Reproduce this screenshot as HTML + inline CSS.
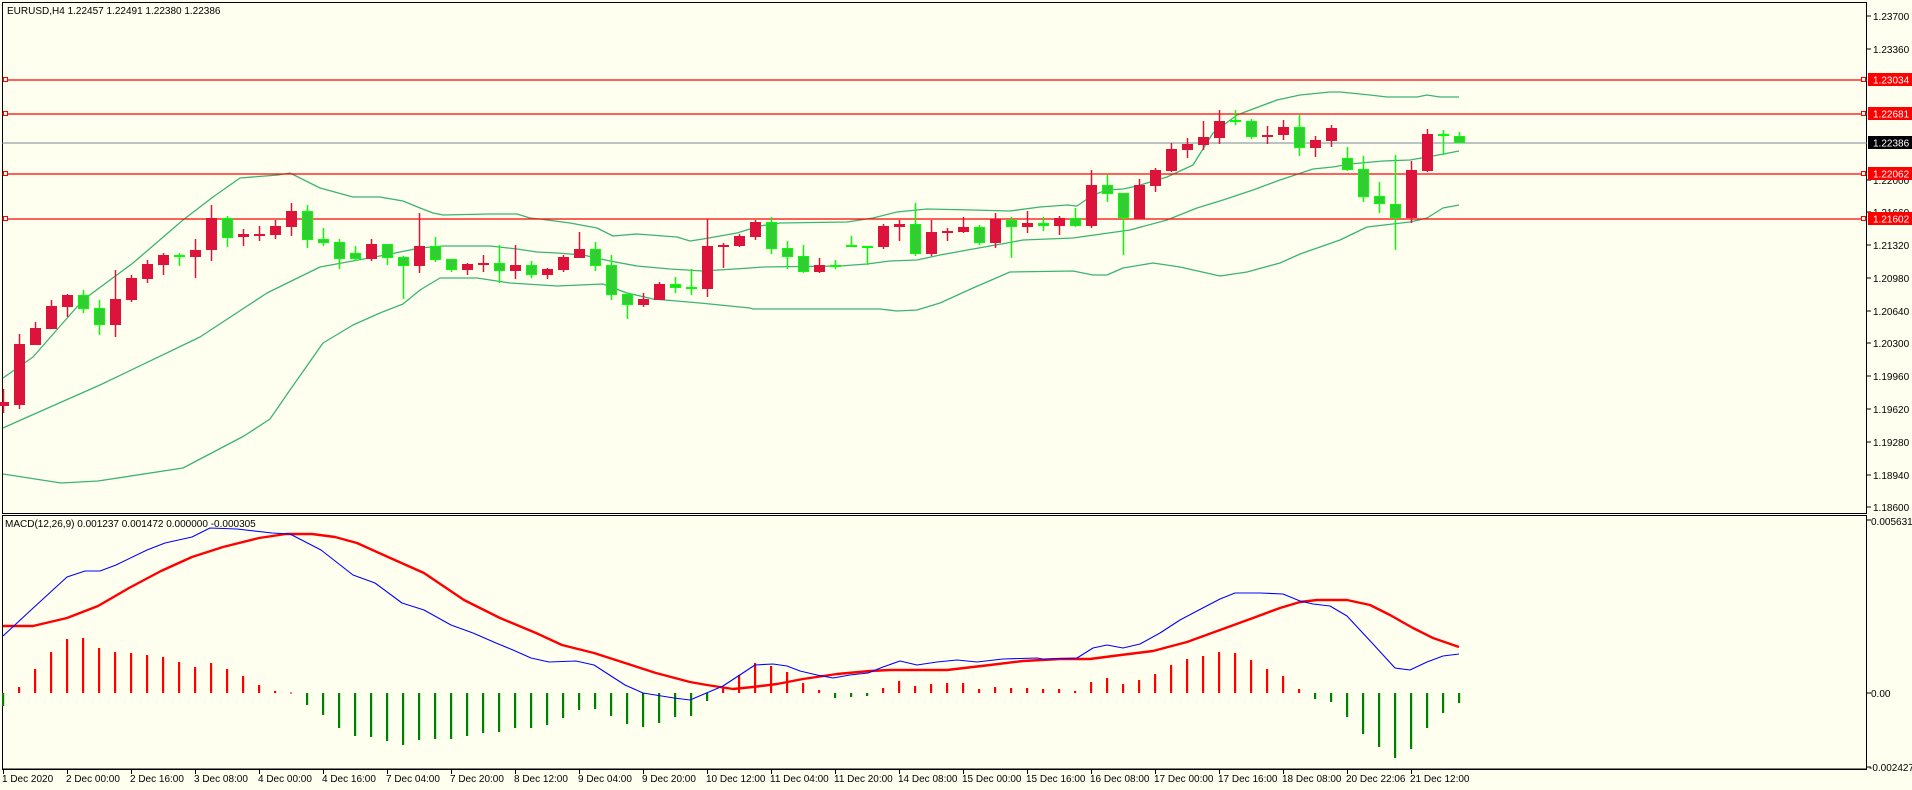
<!DOCTYPE html>
<html><head><meta charset="utf-8">
<style>
html,body{margin:0;padding:0;background:#fffff0;}
svg{display:block;}
text{font-family:"Liberation Sans",sans-serif;font-size:10px;fill:#000;}
</style></head>
<body>
<svg id="c" width="1912" height="790" xmlns="http://www.w3.org/2000/svg">
<rect x="0" y="0" width="1912" height="790" fill="#fffff0"/>
<rect x="2.5" y="2.5" width="1864" height="511" fill="none" stroke="#000" stroke-width="1"/>
<rect x="2.5" y="515.5" width="1864" height="253.5" fill="none" stroke="#000" stroke-width="1"/>
<line x1="2" y1="769.5" x2="1867" y2="769.5" stroke="#000"/>
<g id="bands" fill="none" stroke="#3cb371" stroke-width="1.3"></g>
<g stroke="#ff0000" stroke-width="1.3">
<line x1="2" y1="80" x2="1867" y2="80"/>
<line x1="2" y1="114" x2="1867" y2="114"/>
<line x1="2" y1="174" x2="1867" y2="174"/>
<line x1="2" y1="219" x2="1867" y2="219"/>
</g>
<g fill="#fffff0" stroke="#ff0000" stroke-width="1">
<rect x="3.5" y="77.5" width="4" height="4"/><rect x="3.5" y="111.5" width="4" height="4"/>
<rect x="3.5" y="171.5" width="4" height="4"/><rect x="3.5" y="216.5" width="4" height="4"/>
<rect x="1861.5" y="77.5" width="4" height="4"/><rect x="1861.5" y="111.5" width="4" height="4"/>
<rect x="1861.5" y="171.5" width="4" height="4"/><rect x="1861.5" y="216.5" width="4" height="4"/>
</g>
<line x1="2" y1="143" x2="1867" y2="143" stroke="#778899" stroke-width="1"/>
<g id="candles"></g>
<g id="macd"></g>
<text x="7" y="14">EURUSD,H4  1.22457 1.22491 1.22380 1.22386</text>
<text x="5" y="527">MACD(12,26,9) 0.001237 0.001472 0.000000 -0.000305</text>
<g stroke="#000">
<line x1="1867" y1="16" x2="1871" y2="16"/><line x1="1867" y1="49" x2="1871" y2="49"/>
<line x1="1867" y1="245" x2="1871" y2="245"/><line x1="1867" y1="278" x2="1871" y2="278"/>
<line x1="1867" y1="311" x2="1871" y2="311"/><line x1="1867" y1="343" x2="1871" y2="343"/>
<line x1="1867" y1="376" x2="1871" y2="376"/><line x1="1867" y1="409" x2="1871" y2="409"/>
<line x1="1867" y1="442" x2="1871" y2="442"/><line x1="1867" y1="475" x2="1871" y2="475"/>
<line x1="1867" y1="507" x2="1871" y2="507"/><line x1="1867" y1="212" x2="1871" y2="212"/>
<line x1="1867" y1="180" x2="1871" y2="180"/>
<line x1="1867" y1="520" x2="1871" y2="520"/><line x1="1867" y1="693" x2="1871" y2="693"/><line x1="1867" y1="767" x2="1871" y2="767"/>
</g>
<g>
<text x="1873" y="20">1.23700</text><text x="1873" y="53">1.23360</text>
<text x="1873" y="184">1.22000</text><text x="1873" y="216">1.21660</text>
<text x="1873" y="249">1.21320</text><text x="1873" y="282">1.20980</text>
<text x="1873" y="315">1.20640</text><text x="1873" y="347">1.20300</text>
<text x="1873" y="380">1.19960</text><text x="1873" y="413">1.19620</text>
<text x="1873" y="446">1.19280</text><text x="1873" y="479">1.18940</text>
<text x="1873" y="511">1.18600</text>
<text x="1871" y="525">0.005631</text><text x="1871" y="697">0.00</text><text x="1869" y="771">-0.002427</text>
</g>
<rect x="1868" y="73" width="44" height="13" fill="#ff0000"/>
<text x="1873" y="83.5" style="fill:#fff">1.23034</text>
<rect x="1868" y="107" width="44" height="13" fill="#ff0000"/>
<text x="1873" y="117.5" style="fill:#fff">1.22681</text>
<rect x="1868" y="136" width="44" height="13" fill="#000"/>
<text x="1873" y="146.5" style="fill:#fff">1.22386</text>
<rect x="1868" y="167" width="44" height="13" fill="#ff0000"/>
<text x="1873" y="177.5" style="fill:#fff">1.22062</text>
<rect x="1868" y="212" width="44" height="13" fill="#ff0000"/>
<text x="1873" y="222.5" style="fill:#fff">1.21602</text>
<g id="tticks" stroke="#000"></g>
<g>
<text x="2" y="782">1 Dec 2020</text>
<text x="66" y="782">2 Dec 00:00</text>
<text x="130" y="782">2 Dec 16:00</text>
<text x="194" y="782">3 Dec 08:00</text>
<text x="258" y="782">4 Dec 00:00</text>
<text x="322" y="782">4 Dec 16:00</text>
<text x="386" y="782">7 Dec 04:00</text>
<text x="450" y="782">7 Dec 20:00</text>
<text x="514" y="782">8 Dec 12:00</text>
<text x="578" y="782">9 Dec 04:00</text>
<text x="642" y="782">9 Dec 20:00</text>
<text x="706" y="782">10 Dec 12:00</text>
<text x="770" y="782">11 Dec 04:00</text>
<text x="834" y="782">11 Dec 20:00</text>
<text x="898" y="782">14 Dec 08:00</text>
<text x="962" y="782">15 Dec 00:00</text>
<text x="1026" y="782">15 Dec 16:00</text>
<text x="1090" y="782">16 Dec 08:00</text>
<text x="1154" y="782">17 Dec 00:00</text>
<text x="1218" y="782">17 Dec 16:00</text>
<text x="1282" y="782">18 Dec 08:00</text>
<text x="1346" y="782">20 Dec 22:06</text>
<text x="1410" y="782">21 Dec 12:00</text>
</g>
</svg>
<script>
var NS="http://www.w3.org/2000/svg";
function el(p,t,a){var e=document.createElementNS(NS,t);for(var k in a)e.setAttribute(k,a[k]);p.appendChild(e);return e;}
var C=[[402,406,389,413,'r'],[344,405,334,409,'r'],[328,345,322,345,'r'],[306,329,300,329,'r'],[295,307,294,317,'r'],[295,309,290,313,'g'],[308,325,300,335,'g'],[299,325,270,337,'r'],[278,300,275,302,'r'],[264,279,260,283,'r'],[255,265,253,275,'r'],[255,257,253,266,'g'],[250,257,239,278,'r'],[218,250,205,261,'r'],[218,238,216,247,'g'],[234,237,229,246,'r'],[234,235,226,241,'r'],[226,235,220,239,'r'],[211,227,203,236,'r'],[211,240,205,248,'g'],[239,243,228,246,'g'],[242,259,239,269,'g'],[253,259,246,261,'g'],[244,259,239,261,'r'],
[244,258,244,265,'g'],[257,266,256,299,'g'],[246,266,213,273,'r'],[246,260,237,262,'g'],[259,270,259,272,'g'],[264,270,263,275,'r'],[263,265,255,272,'r'],[263,271,245,283,'g'],[265,271,245,279,'r'],[265,275,261,278,'g'],[269,275,268,279,'r'],[257,270,255,272,'r'],[249,258,232,258,'r'],[249,266,242,271,'g'],[265,295,255,300,'g'],[294,305,293,319,'g'],[299,305,293,307,'r'],[284,300,282,300,'r'],[284,288,277,293,'g'],[287,289,269,295,'g'],[246,289,219,297,'r'],[245,247,243,268,'r'],[236,246,234,247,'r'],
[222,237,220,240,'r'],[222,249,217,254,'g'],[248,257,241,269,'g'],[256,272,245,273,'g'],[265,272,258,273,'r'],[265,267,260,269,'g'],[245,247,236,247,'g'],[246,247,246,265,'g'],[226,247,224,249,'r'],[224,227,220,241,'r'],[224,254,203,256,'g'],[232,254,220,256,'r'],[231,233,228,241,'r'],[227,232,217,233,'r'],[227,243,225,245,'g'],[219,243,213,248,'r'],[220,227,217,258,'g'],[223,227,211,233,'r'],[223,226,217,231,'g'],[218,226,216,235,'r'],[218,226,208,227,'g'],[185,226,170,228,'r'],[185,194,175,202,'g'],
[193,218,193,255,'g'],[185,219,179,219,'r'],[170,186,168,192,'r'],[149,171,143,172,'r'],[144,150,138,158,'r'],[137,145,121,150,'r'],[121,138,110,144,'r'],[120,122,110,125,'g'],[121,137,119,139,'g'],[135,137,126,144,'r'],[127,135,120,140,'r'],[127,148,115,156,'g'],[140,148,136,157,'r'],[128,141,125,147,'r'],[158,170,147,171,'g'],[169,197,156,202,'g'],[196,204,182,213,'g'],[204,218,155,250,'g'],[170,218,161,223,'r'],[134,171,129,172,'r'],[134,136,130,155,'g'],[136,143,132,143,'g']];
var g=document.getElementById('candles');
C.forEach(function(c,i){var x=3+16*i;var col=c[4]=='r'?'#dc143c':'#00ff00';
el(g,'line',{x1:x+0.5,x2:x+0.5,y1:c[2],y2:c[3],stroke:col,'stroke-width':1.5});
var h=Math.max(c[1]-c[0],2);
if(c[4]=='r')el(g,'rect',{x:x-5,y:c[0],width:11,height:h,fill:'#dc143c'});
else el(g,'rect',{x:x-4.5,y:c[0]+0.5,width:10,height:Math.max(h-1,1),fill:'#32cd32',stroke:'#00ff00','stroke-width':1});});
function pl(p,pts,col,w){el(p,'polyline',{points:pts.map(function(a){return a.join(',')}).join(' '),fill:'none',stroke:col,'stroke-width':w,'stroke-linejoin':'round'});}
var b=document.getElementById('bands');
pl(b,[[3,378],[33,357],[83,300],[133,263],[183,220],[213,197],[240,178],[278,175],[290,173],[320,188],[353,197],[380,197],[403,201],[420,208],[433,213],[443,215],[490,214],[517,214],[530,218],[540,219],[570,223],[597,228],[613,236],[637,234],[677,237],[690,241],[703,239],[737,233],[750,229],[760,226],[780,223],[847,222],[873,218],[897,212],[927,209],[973,210],[1010,211],[1040,207],[1067,205],[1077,206],[1093,195],[1107,190],[1123,189],[1137,186],[1167,177],[1193,165],[1213,133],[1237,115],[1277,100],[1300,95],[1330,92],[1340,92],[1360,94],[1370,95],[1387,97],[1417,97],[1427,95],[1440,97],[1459,97]],'#3cb371',1.3);
pl(b,[[3,428],[23,419],[100,385],[200,337],[267,293],[320,267],[380,256],[400,252],[420,248],[443,246],[490,246],[517,249],[537,252],[557,253],[583,255],[610,261],[637,266],[670,269],[703,271],[750,268],[763,267],[840,266],[867,264],[890,261],[917,260],[940,255],[973,249],[1007,243],[1023,240],[1073,238],[1080,237],[1130,230],[1167,220],[1197,208],[1223,200],[1253,190],[1280,180],[1313,169],[1333,167],[1350,164],[1383,161],[1410,160],[1433,156],[1459,151]],'#3cb371',1.3);
pl(b,[[3,474],[61,483],[98,481],[183,468],[244,436],[270,419],[290,390],[323,343],[353,325],[380,313],[403,304],[420,290],[440,278],[477,278],[510,283],[557,286],[603,284],[627,293],[653,299],[700,303],[750,308],[753,309],[880,309],[897,311],[917,310],[940,303],[973,288],[1010,272],[1073,271],[1093,275],[1107,275],[1123,268],[1153,263],[1180,267],[1220,276],[1247,272],[1280,263],[1300,254],[1340,240],[1367,227],[1410,222],[1427,218],[1443,208],[1459,205]],'#3cb371',1.3);
var H=[-13,6,24,41,54,55,45,41,40,38,36,31,26,30,24,17,8,2,0.5,-12,-22,-35,-43,-44,-48,-52,-47,-46,-46,-43,-40,-39,-35,-35,-32,-25,-17,-16,-23,-31,-34,-30,-24,-23,-8,5,18,30,27,21,10,3,-5,-4,-3,5,12,7,9,10,10,4,6,5,5,4,4,2,11,15,9,13,19,28,34,37,41,40,33,24,17,4,-6,-9,-24,-41,-54,-65,-56,-35,-20,-10];
var m=document.getElementById('macd');
H.forEach(function(h,i){var x=3+16*i;var y=h>0?693-h:693;el(m,'rect',{x:x-1,y:y,width:2.2,height:Math.max(Math.abs(h),1),fill:h>0?'#ff0000':'#008000'});});
pl(m,[[3,626],[33,626],[67,618],[98,606],[129,588],[161,571],[192,557],[223,547],[259,538],[286,534],[312,534],[335,537],[357,543],[388,557],[424,573],[464,600],[500,618],[536,633],[562,645],[594,653],[625,663],[656,673],[690,682],[707,685],[733,689],[753,687],[777,684],[803,679],[837,674],[870,671],[890,670],[947,670],[990,665],[1023,661],[1060,659],[1090,659],[1113,656],[1153,651],[1187,642],[1220,630],[1253,618],[1280,608],[1300,602],[1317,600],[1347,600],[1370,605],[1390,615],[1413,628],[1433,638],[1459,647]],'#ff0000',2.4);
pl(m,[[3,636],[31,610],[67,577],[85,571],[100,571],[116,565],[147,550],[165,543],[192,537],[210,528],[237,529],[272,533],[290,534],[321,550],[353,575],[375,583],[402,603],[424,610],[451,625],[473,633],[496,643],[513,650],[531,658],[549,662],[576,661],[594,665],[625,685],[643,693],[674,698],[690,700],[723,686],[755,665],[773,664],[787,666],[800,671],[817,675],[833,678],[850,675],[868,673],[883,667],[900,661],[917,665],[937,662],[957,660],[977,662],[1003,659],[1037,658],[1043,659],[1077,658],[1093,648],[1107,645],[1123,648],[1140,644],[1160,633],[1180,620],[1197,611],[1220,599],[1235,593],[1260,593],[1283,594],[1300,601],[1313,604],[1330,606],[1347,616],[1373,644],[1395,668],[1410,670],[1427,662],[1443,656],[1459,654]],'#0000ff',1.1);
var t=document.getElementById('tticks');
for(var k=0;k<23;k++){var x=3+64*k+0.5;el(t,'line',{x1:x,x2:x,y1:769,y2:774});}
</script>
</body></html>
